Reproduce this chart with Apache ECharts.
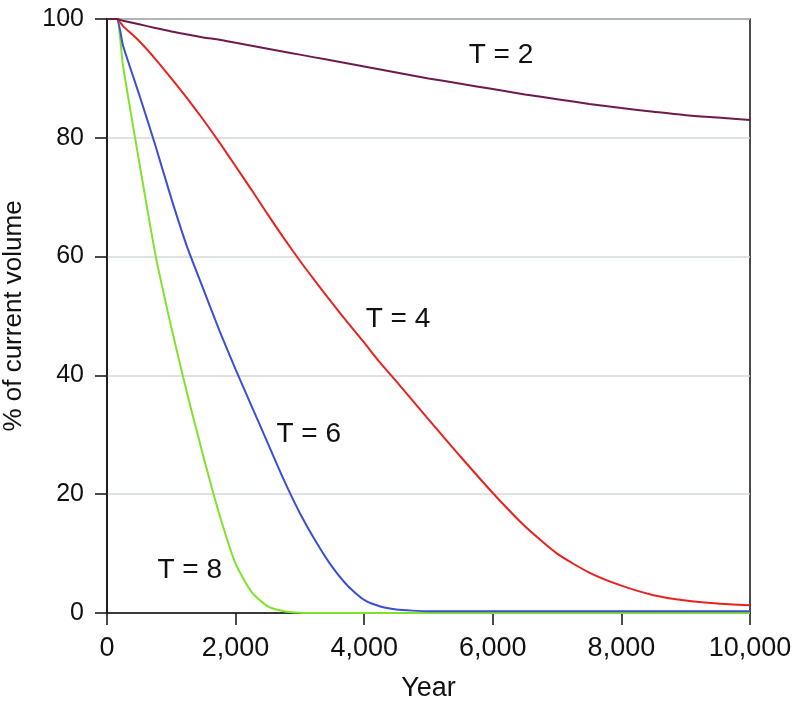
<!DOCTYPE html>
<html>
<head>
<meta charset="utf-8">
<script src="https://cdn.jsdelivr.net/npm/echarts@6/dist/echarts.min.js"></script>
<style>
html,body{margin:0;padding:0;background:#fff;}
#chart{width:793px;height:709px;}
</style>
</head>
<body>
<div id="chart"></div>
<script>
const years = [0,150,250,500,750,1000,1250,1500,1750,2000,2250,2500,2750,3000,3250,3500,3750,4000,4250,4500,4750,5000,5500,6000,6500,7000,7500,8000,8500,9000,9500,10000];
const t2 = [100,100,99.7,99.1,98.5,97.9,97.4,96.9,96.5,96.0,95.5,95.0,94.5,94.0,93.5,93.0,92.5,92.0,91.5,91.0,90.5,90.0,89.1,88.2,87.3,86.5,85.7,85.0,84.4,83.8,83.4,83.0];
const t4 = [100,100,98.8,96.3,93.3,90.0,86.6,83.0,79.2,75.2,71.2,67.1,63.1,59.3,55.7,52.2,48.8,45.5,42.1,39,35.8,32.6,26.3,20.2,14.6,10.0,6.8,4.6,3.0,2.1,1.6,1.3];
const t6 = [100,100,95.5,87.3,78.8,69.8,61.5,54.5,47.5,41,34.8,28.6,22.4,16.8,12,7.8,4.5,2.2,1.1,0.6,0.4,0.3,0.3,0.3,0.3,0.3,0.3,0.3,0.3,0.3,0.3,0.3];
const t8 = [100,100,92,76,60.5,48.1,36.8,26.3,16.5,8.3,3.5,1.1,0.3,0.05,0,0,0,0,0,0,0,0,0,0,0,0,0,0,0,0,0,0];
const seriesNames = ['T = 2','T = 4','T = 6','T = 8'];
const seriesColors = ['#6e1a4c','#e8231f','#3a4fd6','#80e22c'];
const labelPos = [[6128,93.9],[4526,49.5],[3137,30.1],[1286,7.2]];

const allValues = [t2,t4,t6,t8];
const font = 'Liberation Sans, Arial, Helvetica, sans-serif';

const chart = echarts.init(document.getElementById('chart'), null, {renderer:'canvas'});
const series = allValues.map((vals, i) => ({
  name: seriesNames[i],
  type: 'line',
  data: years.map((y, j) => [y, vals[j]]),
  showSymbol: false,
  smooth: 0.2,
  lineStyle: {color: seriesColors[i], width: 2},
  z: 10 - i,
  markPoint: {
    symbol: 'circle',
    symbolSize: 1,
    itemStyle: {color: 'rgba(0,0,0,0)'},
    label: {show: true, position: 'inside', formatter: seriesNames[i], color: '#111', fontSize: 28, fontFamily: font},
    data: [{coord: labelPos[i]}]
  }
}));

chart.setOption({
  animation: false,
  backgroundColor: '#fff',
  grid: {left: 107, right: 43, top: 19, bottom: 96, show: true, borderColor: '#111', borderWidth: 1.5, backgroundColor: 'transparent', containLabel: false, outerBoundsMode: 'none'},
  xAxis: {
    type: 'value', min: 0, max: 10000, interval: 2000,
    name: 'Year', nameLocation: 'middle', nameGap: 62,
    nameTextStyle: {fontSize: 27, color: '#111', fontFamily: font},
    axisLine: {show: true, onZero: false, lineStyle: {color: '#111', width: 1.5}},
    axisTick: {show: true, length: 12, lineStyle: {color: '#111', width: 1.5}},
    axisLabel: {fontSize: 27, color: '#111', fontFamily: font, margin: 22,
      formatter: v => v.toLocaleString('en-US')},
    splitLine: {show: false}
  },
  yAxis: {
    type: 'value', min: 0, max: 100, interval: 20,
    name: '% of current volume', nameLocation: 'middle', nameGap: 80,
    nameTextStyle: {fontSize: 26, color: '#111', fontFamily: font},
    axisLine: {show: true, lineStyle: {color: '#111', width: 1.5}},
    axisTick: {show: true, length: 12, lineStyle: {color: '#111', width: 1.5}},
    axisLabel: {fontSize: 25, color: '#111', fontFamily: font, margin: 23},
    splitLine: {show: true, lineStyle: {color: '#d4d9d9', width: 1.5}}
  },
  series: series
});
</script>
</body>
</html>
